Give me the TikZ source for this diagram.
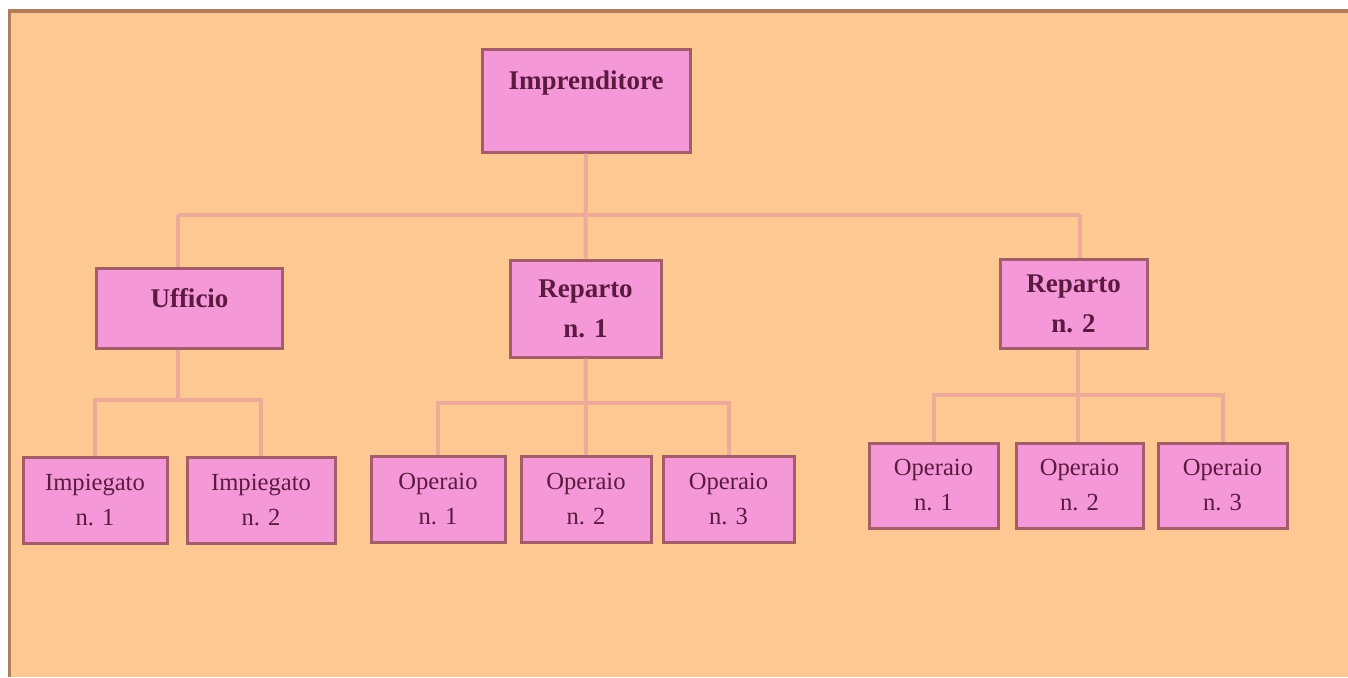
\documentclass[tikz,border=0pt]{standalone}
\usepackage{fontspec}
\setmainfont{Liberation Serif}
\definecolor{sfondo}{HTML}{FDC892}
\definecolor{cornice}{HTML}{B07E58}
\definecolor{rosa}{HTML}{F598D8}
\definecolor{bordo}{HTML}{A45C68}
\definecolor{testo}{HTML}{5C1A40}
\definecolor{linea}{HTML}{EDAA98}

\begin{document}
\begin{tikzpicture}[x=0.5pt, y=-0.5pt,
		box/.style={draw=bordo, fill=rosa, line width=1.5pt, inner sep=0pt, align=center, text=testo},
		capo/.style={box, font=\bfseries\fontsize{13.5}{20}\selectfont},
		addetto/.style={box, font=\fontsize{12.3}{17.5}\selectfont},
		conn/.style={draw=linea, line width=2pt}]
			%%%%% SFONDO %%%%%
			\useasboundingbox (0, 0) rectangle (1348, 677);
			\fill[white] (0, 0) rectangle (1348, 677);
			\fill[sfondo] (10, 11) rectangle (1348, 677);
			\fill[cornice] (8, 9) rectangle (1348, 12.5);
			\fill[cornice] (8, 9) rectangle (11, 677);
			
			%%%%% CASELLE %%%%%
			\node[capo, minimum width=104pt, minimum height=51.5pt, text height=9pt, text depth=20pt] (impr) at (586, 100.5) {Imprenditore};
			
			\node[capo, minimum width=93pt, minimum height=40pt, text height=9pt, text depth=10pt] (uff) at (189.5, 308) {Ufficio};
			\node[capo, minimum width=75.5pt, minimum height=48.5pt] (rep1) at (585.5, 308.5) {Reparto\\n. 1};
			\node[capo, minimum width=73.5pt, minimum height=44.5pt] (rep2) at (1073.5, 303.5) {Reparto\\n. 2};
			
			\node[addetto, minimum width=72pt, minimum height=43pt] (imp1) at (95, 500) {Impiegato\\n. 1};
			\node[addetto, minimum width=74pt, minimum height=43pt] (imp2) at (261, 500) {Impiegato\\n. 2};
			
			\node[addetto, minimum width=67pt, minimum height=43pt] (op11) at (438, 499) {Operaio\\n. 1};
			\node[addetto, minimum width=65pt, minimum height=43pt] (op12) at (586, 499) {Operaio\\n. 2};
			\node[addetto, minimum width=65.5pt, minimum height=43pt] (op13) at (728.5, 499) {Operaio\\n. 3};
			
			\node[addetto, minimum width=64.5pt, minimum height=42.5pt] (op21) at (933.5, 485.5) {Operaio\\n. 1};
			\node[addetto, minimum width=63.5pt, minimum height=42.5pt] (op22) at (1079.5, 485.5) {Operaio\\n. 2};
			\node[addetto, minimum width=64.5pt, minimum height=42.5pt] (op23) at (1222.5, 485.5) {Operaio\\n. 3};
			
			%%%%% COLLEGAMENTI %%%%%
			\coordinate (barraS) at (178, 215);
			\coordinate (barraD) at (1080, 215);
			\draw[conn] (impr.south) -- (rep1.north);
			\draw[conn] (barraS) -- (barraD);
			\draw[conn] (barraS) -- (barraS |- uff.north);
			\draw[conn] (barraD) -- (barraD |- rep2.north);
			
			\coordinate (nodo1) at (178, 400);
			\draw[conn] (nodo1 |- uff.south) -- (nodo1);
			\draw[conn] (imp1.north) |- (nodo1) -| (imp2.north);
			
			\coordinate (nodo2) at (586, 403);
			\draw[conn] (rep1.south) -- (op12.north);
			\draw[conn] (op11.north) |- (nodo2) -| (op13.north);
			
			\coordinate (nodo3) at (1078, 395);
			\draw[conn] (nodo3 |- rep2.south) -- (nodo3 |- op22.north);
			\draw[conn] (op21.north) |- (nodo3) -| (op23.north);
		\end{tikzpicture}
\end{document}
